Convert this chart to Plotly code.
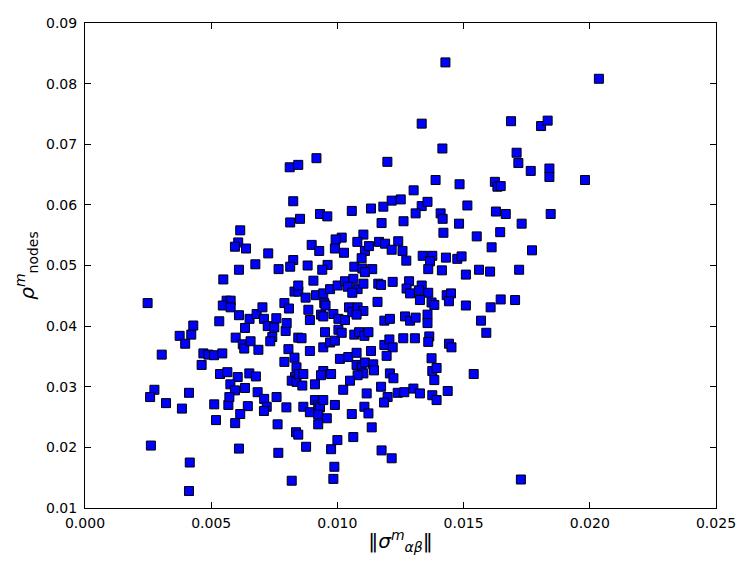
import plotly.graph_objects as go

# sigma norm (x) and rho_nodes (y)
sigma = [
    0.00248, 0.00304, 0.00375, 0.00397, 0.00421, 0.00429, 0.00462, 0.00469, 0.00489, 0.00511,
    0.00544, 0.00532, 0.00548, 0.00561, 0.00577, 0.00546, 0.00577, 0.0061, 0.00634, 0.00652,
    0.00597, 0.00625, 0.00631, 0.00656, 0.00687, 0.0068, 0.00703, 0.00709, 0.00724, 0.0075,
    0.00758, 0.00742, 0.00734, 0.0079, 0.00808, 0.0083, 0.00845, 0.00845, 0.00795, 0.00799,
    0.00806, 0.0079, 0.0083, 0.00838, 0.00832, 0.00819, 0.00838, 0.00535, 0.00564, 0.00605,
    0.00651, 0.00677, 0.00576, 0.00594, 0.00634, 0.00684, 0.00759, 0.00275, 0.00258, 0.00412,
    0.00321, 0.00384, 0.00261, 0.00415, 0.00412, 0.00512, 0.00519, 0.00568, 0.00572, 0.00645,
    0.00615, 0.00595, 0.0071, 0.0072, 0.00709, 0.00798, 0.00763, 0.00836, 0.00845, 0.0061,
    0.00766, 0.00819, 0.00811, 0.00845, 0.00825, 0.00813, 0.00852, 0.00615, 0.00607, 0.00594,
    0.00638, 0.00726, 0.00675, 0.0061, 0.00767, 0.00825, 0.00813, 0.01428, 0.01334, 0.01416,
    0.02036, 0.01688, 0.01807, 0.01833, 0.0171, 0.00917, 0.01198, 0.01389, 0.01484, 0.01302,
    0.01624, 0.01634, 0.01647, 0.01215, 0.01251, 0.01182, 0.01133, 0.01057, 0.01334, 0.01357,
    0.0131, 0.01409, 0.01417, 0.01515, 0.01628, 0.01667, 0.00931, 0.0096, 0.01175, 0.01262,
    0.01482, 0.0142, 0.01552, 0.01645, 0.01611, 0.01103, 0.01079, 0.01017, 0.00993, 0.00898,
    0.00928, 0.0099, 0.01026, 0.01109, 0.01125, 0.01165, 0.01189, 0.01241, 0.01215, 0.01258,
    0.01273, 0.01096, 0.01067, 0.01099, 0.01138, 0.00961, 0.0094, 0.00882, 0.01338, 0.01376,
    0.01367, 0.0136, 0.0143, 0.01475, 0.01492, 0.01414, 0.01509, 0.01561, 0.01605, 0.01717,
    0.01766, 0.0184, 0.0184, 0.01981, 0.01845, 0.0173, 0.01771, 0.0172, 0.01109, 0.00905,
    0.00874, 0.00915, 0.00944, 0.00971, 0.01001, 0.0103, 0.01063, 0.01041, 0.0108, 0.01103,
    0.01059, 0.01162, 0.01173, 0.01219, 0.01284, 0.01274, 0.01288, 0.01334, 0.01323, 0.0136,
    0.01327, 0.01373, 0.01384, 0.01433, 0.0145, 0.01442, 0.01509, 0.01607, 0.01647, 0.01159,
    0.00885, 0.00891, 0.00948, 0.00953, 0.00935, 0.00944, 0.00984, 0.01004, 0.0103, 0.01046,
    0.01059, 0.0108, 0.01103, 0.01076, 0.01186, 0.01208, 0.01268, 0.01288, 0.0131, 0.01357,
    0.01357, 0.01569, 0.00845, 0.00858, 0.00891, 0.00951, 0.00944, 0.00971, 0.0099, 0.01004,
    0.01017, 0.01067, 0.01086, 0.01107, 0.01123, 0.01133, 0.01186, 0.01206, 0.01219, 0.01195,
    0.01261, 0.01307, 0.01364, 0.0136, 0.01442, 0.01452, 0.0159, 0.01373, 0.0101, 0.01043,
    0.01076, 0.01076, 0.01096, 0.01109, 0.01142, 0.01145, 0.01103, 0.0108, 0.0105, 0.01023,
    0.00944, 0.00975, 0.00935, 0.00848, 0.00865, 0.00861, 0.00911, 0.01116, 0.01173, 0.01208,
    0.01222, 0.01239, 0.01265, 0.01301, 0.01327, 0.01376, 0.01393, 0.01384, 0.01376, 0.01437,
    0.0154, 0.01199, 0.01185, 0.01393, 0.00865, 0.00891, 0.00911, 0.00924, 0.00931, 0.00944,
    0.00924, 0.00958, 0.00924, 0.0099, 0.01057, 0.01107, 0.01123, 0.01136, 0.01063, 0.01,
    0.00975, 0.00876, 0.01175, 0.01215, 0.00988, 0.00984, 0.01727, 0.01704,
]
rho = [
    0.0438, 0.0353, 0.0384, 0.0371, 0.0386, 0.0401, 0.0336, 0.0355, 0.0353, 0.0352,
    0.0355, 0.0408, 0.0477, 0.0442, 0.0442, 0.0434, 0.0431, 0.0418, 0.0397, 0.0412,
    0.0381, 0.0370, 0.0363, 0.0375, 0.0361, 0.0420, 0.0431, 0.0412, 0.0400, 0.0398,
    0.0413, 0.0382, 0.0375, 0.0438, 0.0429, 0.0457, 0.0457, 0.0467, 0.0392, 0.0405,
    0.0362, 0.0341, 0.0348, 0.0332, 0.0316, 0.0310, 0.0308, 0.0321, 0.0324, 0.0316,
    0.0322, 0.0317, 0.0304, 0.0294, 0.0298, 0.0291, 0.0283, 0.0295, 0.0283, 0.0290,
    0.0273, 0.0264, 0.0203, 0.0175, 0.0128, 0.0271, 0.0245, 0.0270, 0.0283, 0.0268,
    0.0255, 0.0240, 0.0280, 0.0267, 0.0260, 0.0266, 0.0238, 0.0225, 0.0221, 0.0198,
    0.0191, 0.0145, 0.0662, 0.0666, 0.0606, 0.0571, 0.0577, 0.0558, 0.0538, 0.0531,
    0.0528, 0.0520, 0.0502, 0.0493, 0.0494, 0.0509, 0.0498, 0.0835, 0.0734, 0.0693,
    0.0808, 0.0738, 0.0730, 0.0739, 0.0686, 0.0677, 0.0671, 0.0641, 0.0634, 0.0624,
    0.0638, 0.0630, 0.0631, 0.0607, 0.0609, 0.0597, 0.0594, 0.0590, 0.0598, 0.0605,
    0.0586, 0.0586, 0.0577, 0.0599, 0.0589, 0.0585, 0.0585, 0.0581, 0.0570, 0.0573,
    0.0569, 0.0554, 0.0548, 0.0555, 0.0530, 0.0551, 0.0539, 0.0546, 0.0543, 0.0534,
    0.0524, 0.0528, 0.0521, 0.0524, 0.0532, 0.0539, 0.0536, 0.0540, 0.0526, 0.0524,
    0.0508, 0.0512, 0.0498, 0.0495, 0.0494, 0.0501, 0.0493, 0.0500, 0.0516, 0.0516,
    0.0507, 0.0494, 0.0513, 0.0511, 0.0515, 0.0492, 0.0485, 0.0493, 0.0490, 0.0669,
    0.0656, 0.0660, 0.0646, 0.0641, 0.0585, 0.0569, 0.0525, 0.0493, 0.0489, 0.0475,
    0.0447, 0.0451, 0.0454, 0.0461, 0.0467, 0.0474, 0.0478, 0.0465, 0.0461, 0.0470,
    0.0455, 0.0470, 0.0468, 0.0473, 0.0474, 0.0462, 0.0454, 0.0467, 0.0459, 0.0455,
    0.0443, 0.0439, 0.0435, 0.0451, 0.0454, 0.0441, 0.0434, 0.0431, 0.0444, 0.0440,
    0.0427, 0.0410, 0.0438, 0.0434, 0.0419, 0.0416, 0.0420, 0.0412, 0.0410, 0.0431,
    0.0423, 0.0431, 0.0425, 0.0419, 0.0409, 0.0412, 0.0416, 0.0409, 0.0414, 0.0419,
    0.0405, 0.0409, 0.0381, 0.0380, 0.0359, 0.0390, 0.0365, 0.0373, 0.0376, 0.0394,
    0.0389, 0.0386, 0.0390, 0.0384, 0.0390, 0.0359, 0.0369, 0.0378, 0.0365, 0.0351,
    0.0380, 0.0380, 0.0383, 0.0374, 0.0371, 0.0365, 0.0389, 0.0347, 0.0346, 0.0349,
    0.0356, 0.0336, 0.0332, 0.0340, 0.0337, 0.0327, 0.0322, 0.0319, 0.0310, 0.0295,
    0.0326, 0.0321, 0.0319, 0.0321, 0.0321, 0.0302, 0.0304, 0.0289, 0.0300, 0.0322,
    0.0314, 0.0290, 0.0291, 0.0297, 0.0289, 0.0326, 0.0331, 0.0311, 0.0286, 0.0293,
    0.0321, 0.0283, 0.0274, 0.0278, 0.0267, 0.0258, 0.0278, 0.0270, 0.0266, 0.0278,
    0.0254, 0.0248, 0.0238, 0.0270, 0.0255, 0.0267, 0.0256, 0.0233, 0.0217, 0.0212,
    0.0197, 0.0201, 0.0195, 0.0182, 0.0168, 0.0148, 0.0147, 0.0443,
]

x_ticks = [0.000, 0.005, 0.010, 0.015, 0.020, 0.025]
y_ticks = [0.01, 0.02, 0.03, 0.04, 0.05, 0.06, 0.07, 0.08, 0.09]

fig = go.Figure()
fig.add_trace(go.Scatter(
    x=sigma, y=rho, mode="markers",
    marker=dict(symbol="square", size=9, color="#0000ff",
                line=dict(color="black", width=1)),
))

axis_style = dict(
    showgrid=False, zeroline=False, showline=True, linecolor="black", linewidth=1,
    mirror="ticks", ticks="inside", ticklen=6, tickcolor="black",
    tickfont=dict(family="DejaVu Sans", size=14, color="black"),
    ticklabeloverflow="allow",
)

# the page body adds an 8px margin, so the figure is 8px smaller and shifted
fig.update_layout(
    width=739, height=563,
    margin=dict(l=77, r=31, t=7, b=63),
    paper_bgcolor="white", plot_bgcolor="white",
    showlegend=False,
    font=dict(family="DejaVu Sans", color="black"),
    xaxis=dict(range=[0, 0.025], tickvals=x_ticks,
               ticktext=["%.3f" % v for v in x_ticks],
               ticklabelstandoff=2,
               title=dict(text="‖<i>σ</i><sup><i>m</i></sup><sub><i>αβ</i></sub>‖",
                          font=dict(size=20), standoff=4),
               **axis_style),
    yaxis=dict(range=[0.01, 0.09], tickvals=y_ticks,
               ticktext=["%.2f" % v for v in y_ticks],
               ticklabelstandoff=4,
               title=dict(text="<i>ρ</i><sup><i>m</i></sup><sub>nodes</sub>",
                          font=dict(size=20), standoff=6),
               **axis_style),
)

fig.write_html("out.html")
